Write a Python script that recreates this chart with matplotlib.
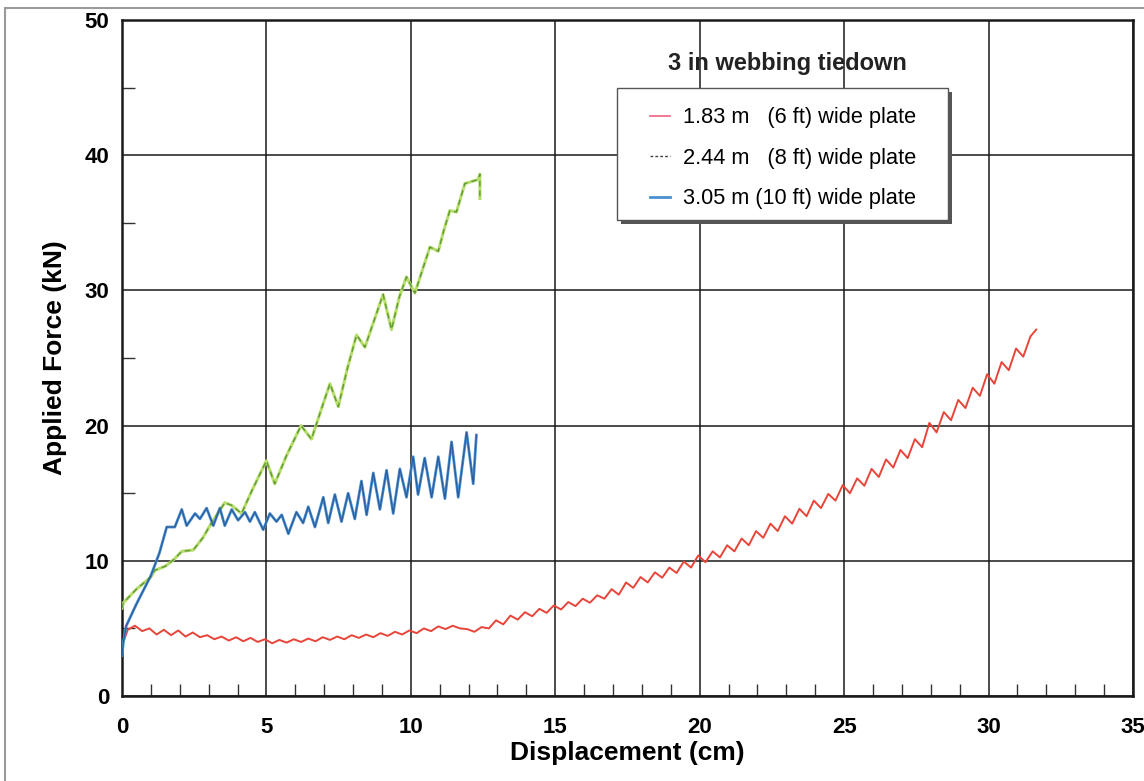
import numpy as np
import matplotlib
matplotlib.use("Agg")
from matplotlib import pyplot as plt
from matplotlib.patches import Rectangle
from matplotlib.ticker import MultipleLocator

plt.rcParams['font.family'] = ['Liberation Sans', 'DejaVu Sans']

# 1.83 m (6 ft) wide plate
red_x = [0.05, 0.2, 0.45, 0.7, 0.95, 1.2, 1.45, 1.7, 1.95, 2.2, 2.45, 2.7, 2.95, 3.2, 3.45,
         3.7, 3.95, 4.2, 4.45, 4.7, 4.95, 5.2, 5.45, 5.7, 5.95, 6.2, 6.45, 6.7, 6.95, 7.2,
         7.45, 7.7, 7.95, 8.2, 8.45, 8.7, 8.95, 9.2, 9.45, 9.7, 9.95, 10.2, 10.45, 10.7,
         10.95, 11.2, 11.45, 11.7, 11.95, 12.2, 12.45, 12.7, 12.95, 13.2, 13.45, 13.7,
         13.95, 14.2, 14.45, 14.7, 14.95, 15.2, 15.45, 15.7, 15.95, 16.2, 16.45, 16.7,
         16.95, 17.2, 17.45, 17.7, 17.95, 18.2, 18.45, 18.7, 18.95, 19.2, 19.45, 19.7,
         19.95, 20.2, 20.45, 20.7, 20.95, 21.2, 21.45, 21.7, 21.95, 22.2, 22.45, 22.7,
         22.95, 23.2, 23.45, 23.7, 23.95, 24.2, 24.45, 24.7, 24.95, 25.2, 25.45, 25.7,
         25.95, 26.2, 26.45, 26.7, 26.95, 27.2, 27.45, 27.7, 27.95, 28.2, 28.45, 28.7,
         28.95, 29.2, 29.45, 29.7, 29.95, 30.2, 30.45, 30.7, 30.95, 31.2, 31.45, 31.65]
red_y = [4.0, 4.9, 5.2, 4.8, 5.0, 4.55, 4.9, 4.5, 4.85, 4.4, 4.7, 4.35, 4.5, 4.2, 4.4,
         4.1, 4.35, 4.05, 4.3, 4.0, 4.2, 3.9, 4.15, 3.95, 4.2, 4.0, 4.25, 4.05, 4.35, 4.15,
         4.4, 4.2, 4.5, 4.3, 4.55, 4.35, 4.65, 4.45, 4.75, 4.55, 4.85, 4.65, 5.0, 4.8,
         5.15, 4.95, 5.2, 5.0, 4.95, 4.75, 5.1, 5.0, 5.6, 5.3, 5.95, 5.65,
         6.2, 5.9, 6.45, 6.15, 6.7, 6.4, 6.95, 6.65, 7.2, 6.9, 7.45, 7.2,
         7.9, 7.5, 8.4, 8.0, 8.8, 8.4, 9.15, 8.75, 9.5, 9.1, 9.95, 9.5,
         10.4, 9.9, 10.7, 10.25, 11.15, 10.7, 11.65, 11.15, 12.2, 11.7, 12.75, 12.2,
         13.3, 12.75, 13.85, 13.3, 14.45, 13.9, 14.95, 14.45, 15.6, 15.0, 16.1, 15.55,
         16.8, 16.2, 17.5, 16.9, 18.2, 17.6, 19.0, 18.4, 20.2, 19.5, 21.0, 20.4,
         21.9, 21.3, 22.8, 22.2, 23.8, 23.1, 24.7, 24.1, 25.7, 25.1, 26.6, 27.1]

# 2.44 m (8 ft) wide plate
green_x = [0.0, 0.05, 0.5, 1.0, 1.14, 1.5, 1.8, 2.07, 2.47, 2.8, 3.1, 3.56, 3.8, 4.14,
           4.5, 5.0, 5.29, 5.7, 6.2, 6.56, 6.9, 7.2, 7.49, 7.8, 8.12, 8.41, 8.7, 9.04,
           9.33, 9.6, 9.85, 9.97, 10.14, 10.4, 10.66, 10.95, 11.15, 11.35, 11.58, 11.87,
           12.33, 12.39, 12.39]
green_y = [6.5, 6.9, 7.9, 8.8, 9.3, 9.6, 10.1, 10.7, 10.8, 11.7, 12.8, 14.3, 14.1, 13.5,
           15.2, 17.4, 15.7, 17.8, 20.0, 19.0, 21.2, 23.1, 21.4, 24.2, 26.7, 25.8, 27.6, 29.7,
           27.1, 29.5, 31.0, 30.5, 29.8, 31.5, 33.2, 32.9, 34.5, 35.9, 35.8, 37.9,
           38.2, 38.6, 36.8]

# 3.05 m (10 ft) wide plate
blue_x = [0.0, 0.05, 0.15, 0.5, 1.0, 1.3, 1.55, 1.83, 2.07, 2.24, 2.53, 2.7, 2.93, 3.16,
          3.39, 3.56, 3.8, 4.02, 4.26, 4.43, 4.6, 4.89, 5.12, 5.35, 5.53, 5.76, 6.04, 6.27,
          6.45, 6.68, 6.97, 7.14, 7.37, 7.6, 7.83, 8.06, 8.29, 8.47, 8.7, 8.93, 9.16, 9.39,
          9.62, 9.85, 10.08, 10.25, 10.48, 10.72, 10.95, 11.18, 11.41, 11.64, 11.93, 12.16,
          12.27]
blue_y = [3.0, 4.0, 5.2, 6.8, 8.9, 10.6, 12.5, 12.5, 13.8, 12.6, 13.5, 13.1, 13.9, 12.6,
          13.9, 12.6, 13.8, 13.0, 13.6, 12.9, 13.6, 12.3, 13.5, 12.9, 13.4, 12.0, 13.6, 12.8,
          14.0, 12.5, 14.7, 12.8, 14.9, 12.9, 15.0, 13.1, 15.9, 13.4, 16.5, 13.8, 16.7, 13.5,
          16.8, 14.7, 17.7, 14.9, 17.6, 14.7, 17.7, 14.6, 18.8, 14.7, 19.5, 15.7,
          19.3]

labels = ["1.83 m   (6 ft) wide plate", "2.44 m   (8 ft) wide plate", "3.05 m (10 ft) wide plate"]

fig = plt.figure(figsize=(11.44, 7.81), dpi=100)
ax = fig.add_axes([0.1066, 0.1088, 0.8838, 0.8656])

# scanned page frame
fig.add_artist(Rectangle((0.004, -0.01), 1.2, 0.9995, transform=fig.transFigure,
                         fill=False, ec="#9a9a9a", lw=1.5))

ax.plot(red_x, red_y, color="#e8453a", lw=1.4, zorder=3)
ax.plot(green_x, green_y, color="#b6dc6a", lw=2.2, zorder=3)
ax.plot(green_x, green_y, color="#5f9a3a", lw=1.0, ls=(0, (4, 3)), zorder=4)
ax.plot(blue_x, blue_y, color="#4a90d0", lw=2.0, zorder=3)
ax.plot(blue_x, blue_y, color="#2a5a9a", lw=0.8, zorder=4)

ax.set_xlim(0, 35)
ax.set_ylim(0, 50)
ax.xaxis.set_major_locator(MultipleLocator(5))
ax.yaxis.set_major_locator(MultipleLocator(10))
ax.xaxis.set_minor_locator(MultipleLocator(1))
ax.yaxis.set_minor_locator(MultipleLocator(5))
ax.grid(True, which="major", color="#1a1a1a", lw=1.1)
ax.tick_params(which="major", length=0, labelsize=16, pad=15)
ax.tick_params(axis="y", which="major", pad=9)
ax.tick_params(which="minor", direction="in", length=9, width=1, color="#333333")
for lab in ax.get_xticklabels() + ax.get_yticklabels():
    lab.set_fontweight("bold")
for s in ax.spines.values():
    s.set_linewidth(1.8)
    s.set_color("#1a1a1a")

ax.set_xlabel("Displacement (cm)", fontsize=19, fontweight="bold", labelpad=2)
ax.set_ylabel("Applied Force (kN)", fontsize=19, fontweight="bold", labelpad=13)

# legend box with drop shadow, drawn by hand for exact padding
bx, by, bw, bh = 0.4896, 0.7041, 0.3274, 0.1953
ax.add_patch(Rectangle((bx + 0.004, by - 0.006), bw, bh, transform=ax.transAxes,
                       fc="#555555", ec="none", zorder=9))
ax.add_patch(Rectangle((bx, by), bw, bh, transform=ax.transAxes,
                       fc="white", ec="#555555", lw=1.0, zorder=9.5))

h1, = ax.plot([], [], color="#f06080", lw=1.2)
h2, = ax.plot([], [], color="#444444", lw=1.0, ls=(0, (2, 1.5)))
h3, = ax.plot([], [], color="#4a90d0", lw=2.0)
leg = ax.legend([h1, h2, h3], labels, loc="upper left", bbox_to_anchor=(0.5223, 0.871),
                fontsize=15.7, frameon=False, handlelength=0.9, handletextpad=0.6,
                labelspacing=0.9, borderpad=0, borderaxespad=0)
leg.set_zorder(10)

ax.text(0.658, 0.936, "3 in webbing tiedown", transform=ax.transAxes, ha="center", va="center",
        fontsize=17, fontweight="bold", color="#222222", zorder=11)

fig.savefig("out.png", dpi=100)
